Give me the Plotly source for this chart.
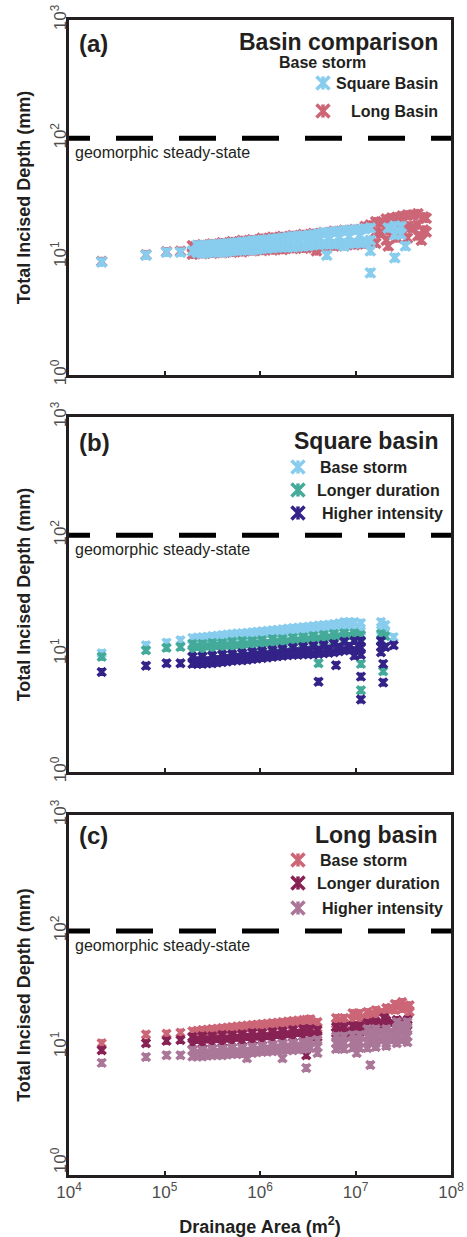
import math
import plotly.graph_objects as go

# ---------------- data ----------------
# (a) Basin comparison - base storm
a_square_area = [2.2e4, 6.4e4, 1.05e5, 1.47e5, 1.96e5,
                 2.49e5, 2.49e5, 3.16e5, 3.16e5, 4.02e5, 4.02e5, 5.1e5, 5.1e5,
                 6.5e5, 6.5e5, 8.3e5, 8.3e5, 1.05e6, 1.05e6, 1.35e6, 1.35e6,
                 1.72e6, 1.72e6, 2.21e6, 2.21e6, 2.83e6, 2.83e6, 3.62e6, 3.62e6,
                 4.64e6, 4.64e6, 5.94e6, 5.94e6, 7.62e6, 7.62e6, 9.75e6, 9.75e6,
                 1.26e7, 1.26e7, 1.43e7, 1.43e7, 2.2e7, 2.58e7, 2.58e7, 3.0e7, 3.0e7,
                 5.0e6, 7.62e6, 1.43e7, 1.43e7, 2.58e7, 3.33e7,
                 2.21e5, 2.8e5, 3.56e5, 4.53e5, 5.75e5, 7.33e5, 9.3e5, 1.19e6, 1.52e6,
                 1.95e6, 2.5e6, 3.2e6, 4.1e6, 5.25e6, 6.73e6, 8.6e6, 1.11e7,
                 2.21e5, 2.8e5, 3.56e5, 4.53e5, 5.75e5, 7.33e5, 9.3e5, 1.19e6, 1.52e6,
                 1.95e6, 2.5e6, 3.2e6, 4.1e6, 5.25e6, 6.73e6, 8.6e6, 1.11e7,
                 2.21e5, 2.8e5, 3.56e5, 4.53e5, 5.75e5, 7.33e5, 9.3e5, 1.19e6, 1.52e6,
                 1.95e6, 2.5e6, 3.2e6, 4.1e6, 5.25e6, 6.73e6, 8.6e6, 1.11e7]
a_square_depth = [9.0, 10.3, 10.9, 10.9, 11.2,
                  12.4, 10.7, 12.6, 10.9, 12.8, 10.9, 13.0, 11.2,
                  13.3, 11.4, 13.6, 11.4, 13.8, 11.7, 14.1, 11.9,
                  14.4, 12.1, 14.8, 12.1, 15.0, 12.3, 15.3, 12.6,
                  15.9, 12.8, 16.2, 12.8, 16.6, 13.0, 16.8, 13.0,
                  17.2, 13.3, 17.5, 13.8, 17.5, 18.2, 15.3, 18.0, 15.5,
                  10.3, 12.3, 11.2, 7.3, 9.8, 12.3,
                  11.5, 11.7, 11.8, 12.0, 12.2, 12.3, 12.6, 12.8, 13.0,
                  13.2, 13.4, 13.7, 14.1, 14.4, 14.6, 14.8, 15.2,
                  12.5, 12.5, 12.7, 12.9, 13.1, 13.4, 13.7, 13.9, 14.2,
                  14.6, 14.9, 15.1, 15.6, 16.0, 16.4, 16.7, 17.0,
                  10.8, 10.8, 10.9, 11.0, 11.3, 11.4, 11.5, 11.8, 12.0,
                  12.1, 12.2, 12.4, 12.7, 12.8, 12.9, 13.0, 13.1]

a_long_area = [2.2e4, 6.4e4, 1.05e5, 1.47e5,
               1.96e5, 1.96e5, 2.49e5, 2.49e5, 3.16e5, 3.16e5, 4.02e5, 4.02e5,
               5.1e5, 5.1e5, 6.5e5, 6.5e5, 8.3e5, 8.3e5, 1.05e6, 1.05e6,
               1.35e6, 1.35e6, 1.72e6, 1.72e6, 2.21e6, 2.21e6, 2.83e6, 2.83e6,
               3.62e6, 3.62e6, 4.64e6, 4.64e6, 5.94e6, 5.94e6, 7.62e6, 7.62e6,
               9.75e6, 9.75e6, 1.26e7, 1.26e7, 1.43e7, 1.43e7,
               1.63e7, 1.63e7, 1.63e7, 2.1e7, 2.1e7, 2.1e7, 2.71e7, 2.71e7, 2.71e7,
               3.5e7, 3.5e7, 3.5e7, 4.5e7, 4.5e7, 4.5e7, 5.5e7, 5.5e7,
               3.9e6, 2.2e7, 4.9e7,
               1.85e7, 1.85e7, 2.39e7, 2.39e7, 3.08e7, 3.08e7, 3.98e7, 3.98e7,
               5.14e7, 5.14e7]
a_long_depth = [9.1, 10.4, 11.0, 11.1,
                12.4, 10.5, 12.6, 10.6, 12.8, 10.7, 13.1, 10.8,
                13.4, 10.9, 13.7, 11.0, 13.9, 11.2, 14.3, 11.3,
                14.6, 11.4, 14.8, 11.5, 15.1, 11.7, 15.4, 11.8,
                15.7, 11.9, 16.0, 12.1, 16.4, 12.3, 16.7, 12.4,
                17.0, 12.6, 18.0, 12.8, 18.5, 13.0,
                19.7, 16.2, 13.0, 20.8, 16.8, 13.8, 21.6, 17.5, 14.4,
                22.5, 18.2, 14.4, 23.1, 18.5, 15.0, 21.1, 16.2,
                11.2, 12.3, 13.8,
                19.6, 15.8, 21.2, 16.8, 22.1, 17.5, 22.5, 17.5,
                21.7, 16.8]

# (b) Square basin
b_base_area = [2.2e4, 6.4e4, 1.05e5, 1.47e5,
               1.96e5, 1.96e5, 2.49e5, 2.49e5, 3.16e5, 3.16e5, 4.02e5, 4.02e5,
               5.1e5, 5.1e5, 6.5e5, 6.5e5, 8.3e5, 8.3e5, 1.05e6, 1.05e6,
               1.35e6, 1.35e6, 1.72e6, 1.72e6, 2.21e6, 2.21e6, 2.83e6, 2.83e6,
               3.62e6, 3.62e6, 4.64e6, 4.64e6, 5.94e6, 5.94e6, 7.62e6, 7.62e6,
               9.75e6, 9.75e6, 1.14e7, 1.14e7, 1.85e7, 1.85e7, 2.05e7, 2.05e7,
               2.51e7,
               2.21e5, 2.8e5, 3.56e5, 4.53e5, 5.75e5, 7.33e5, 9.3e5, 1.19e6,
               1.52e6, 1.95e6, 2.5e6, 3.2e6, 4.1e6, 5.25e6, 6.73e6, 8.6e6,
               2.21e5, 2.8e5, 3.56e5, 4.53e5, 5.75e5, 7.33e5, 9.3e5, 1.19e6,
               1.52e6, 1.95e6, 2.5e6, 3.2e6, 4.1e6, 5.25e6, 6.73e6, 8.6e6]
b_base_depth = [10.1, 11.8, 12.4, 13.0,
                13.6, 11.8, 13.8, 12.1, 14.1, 12.3, 14.4, 12.6,
                14.7, 12.8, 14.9, 13.0, 15.2, 13.3, 15.5, 13.6,
                15.8, 13.8, 16.1, 14.1, 16.5, 14.4, 16.8, 14.7,
                17.1, 14.9, 17.5, 15.2, 17.8, 15.5, 18.5, 15.8,
                18.5, 15.8, 18.2, 15.5, 18.5, 15.8, 17.5, 15.2,
                13.8,
                12.8, 13.0, 13.3, 13.6, 13.8, 14.1, 14.4, 14.7,
                14.9, 15.2, 15.5, 15.8, 16.1, 16.5, 16.8, 17.1,
                13.7, 13.9, 14.2, 14.5, 14.8, 15.0, 15.3, 15.6,
                15.9, 16.3, 16.6, 16.9, 17.3, 17.6, 18.1, 18.5]

b_longer_area = [2.2e4, 6.4e4, 1.05e5, 1.47e5,
                 1.96e5, 1.96e5, 2.49e5, 2.49e5, 3.16e5, 3.16e5, 4.02e5, 4.02e5,
                 5.1e5, 5.1e5, 6.5e5, 6.5e5, 8.3e5, 8.3e5, 1.05e6, 1.05e6,
                 1.35e6, 1.35e6, 1.72e6, 1.72e6, 2.21e6, 2.21e6, 2.83e6, 2.83e6,
                 3.62e6, 3.62e6, 4.64e6, 4.64e6, 5.94e6, 5.94e6, 7.62e6, 7.62e6,
                 9.75e6, 9.75e6, 1.14e7, 1.14e7, 1.85e7, 1.85e7, 2.05e7,
                 4.1e6, 1.14e7, 1.14e7, 1.95e7,
                 2.21e5, 2.8e5, 3.56e5, 4.53e5, 5.75e5, 7.33e5, 9.3e5, 1.19e6,
                 1.52e6, 1.95e6, 2.5e6, 3.2e6, 4.1e6, 5.25e6, 6.73e6, 8.6e6]
b_longer_depth = [9.4, 10.7, 11.2, 11.4,
                  12.1, 10.5, 12.1, 10.7, 12.3, 10.7, 12.3, 10.9,
                  12.6, 10.9, 12.8, 11.2, 12.8, 11.4, 13.0, 11.4,
                  13.3, 11.6, 13.3, 11.8, 13.6, 11.8, 13.8, 12.1,
                  14.1, 12.3, 14.4, 12.6, 14.7, 12.8, 14.9, 13.0,
                  14.9, 13.0, 14.4, 12.6, 14.7, 13.0, 14.1,
                  8.3, 8.2, 4.9, 7.1,
                  11.4, 11.5, 11.6, 11.7, 11.8, 12.0, 12.2, 12.3,
                  12.6, 12.7, 12.9, 13.2, 13.4, 13.7, 14.0, 14.1]

b_higher_area = [2.2e4, 6.4e4, 1.05e5, 1.47e5,
                 1.96e5, 1.96e5, 2.49e5, 2.49e5, 3.16e5, 3.16e5, 4.02e5, 4.02e5,
                 5.1e5, 5.1e5, 6.5e5, 6.5e5, 8.3e5, 8.3e5, 1.05e6, 1.05e6,
                 1.35e6, 1.35e6, 1.72e6, 1.72e6, 2.21e6, 2.21e6, 2.83e6, 2.83e6,
                 3.62e6, 3.62e6, 4.64e6, 4.64e6, 5.94e6, 5.94e6, 7.62e6, 7.62e6,
                 9.75e6, 9.75e6, 9.75e6, 1.14e7, 1.14e7, 1.14e7,
                 1.85e7, 1.85e7, 1.85e7, 2.05e7, 2.51e7,
                 4.1e6, 6.25e6, 1.14e7, 1.14e7, 1.95e7, 1.95e7,
                 2.21e5, 2.8e5, 3.56e5, 4.53e5, 5.75e5, 7.33e5, 9.3e5, 1.19e6,
                 1.52e6, 1.95e6, 2.5e6, 3.2e6, 4.1e6, 5.25e6, 6.73e6, 8.6e6, 1.11e7,
                 2.21e5, 2.8e5, 3.56e5, 4.53e5, 5.75e5, 7.33e5, 9.3e5, 1.19e6,
                 1.52e6, 1.95e6, 2.5e6, 3.2e6, 4.1e6, 5.25e6, 6.73e6, 8.6e6]
b_higher_depth = [7.0, 7.9, 8.3, 8.3,
                  9.4, 8.2, 9.4, 8.2, 9.6, 8.3, 9.8, 8.5,
                  9.9, 8.7, 10.1, 8.8, 10.3, 9.0, 10.5, 9.2,
                  10.7, 9.4, 10.9, 9.6, 11.2, 9.8, 11.4, 9.9,
                  11.6, 9.9, 11.8, 10.1, 12.1, 10.3, 12.6, 10.7,
                  12.8, 10.7, 9.6, 12.8, 11.2, 9.8,
                  12.8, 11.4, 10.3, 11.4, 11.8,
                  5.8, 8.0, 6.4, 4.1, 8.2, 5.7,
                  8.8, 8.8, 9.0, 9.2, 9.4, 9.6, 9.8, 9.9,
                  10.1, 10.3, 10.5, 10.7, 10.8, 11.0, 11.4, 11.6, 11.2,
                  8.2, 8.3, 8.4, 8.6, 8.8, 8.9, 9.1, 9.3,
                  9.5, 9.7, 9.8, 9.9, 10.0, 10.2, 10.5, 10.7]

# (c) Long basin
c_base_area = [2.2e4, 6.4e4, 1.05e5, 1.47e5,
               1.96e5, 1.96e5, 2.49e5, 2.49e5, 3.16e5, 3.16e5, 4.02e5, 4.02e5,
               5.1e5, 5.1e5, 6.5e5, 6.5e5, 8.3e5, 8.3e5, 1.05e6, 1.05e6,
               1.35e6, 1.35e6, 1.72e6, 1.72e6, 2.21e6, 2.21e6, 2.83e6, 2.83e6,
               3.36e6, 3.36e6, 4.0e6, 4.0e6, 6.25e6, 6.25e6, 7.62e6, 7.62e6,
               9.3e6, 9.3e6, 1.11e7, 1.11e7, 1.33e7, 1.33e7, 1.63e7, 1.63e7,
               2.1e7, 2.1e7, 2.58e7, 2.58e7, 3.08e7, 3.08e7, 3.69e7, 3.69e7,
               2.21e5, 2.8e5, 3.56e5, 4.53e5, 5.75e5, 7.33e5, 9.3e5, 1.19e6,
               1.52e6, 1.95e6, 2.5e6, 3.05e6,
               6.9e6, 1.0e7, 1.47e7, 1.85e7, 2.33e7, 2.86e7, 3.41e7,
               2.21e5, 2.8e5, 3.56e5, 4.53e5, 5.75e5, 7.33e5, 9.3e5, 1.19e6,
               1.52e6, 1.95e6, 2.5e6, 3.05e6]
c_base_depth = [10.8, 12.8, 13.0, 13.3,
                13.7, 12.2, 14.0, 12.4, 14.3, 12.7, 14.6, 12.9,
                14.9, 13.2, 15.2, 13.5, 15.5, 13.7, 15.8, 14.0,
                16.1, 14.3, 16.4, 14.6, 16.8, 14.9, 17.1, 15.2,
                17.4, 15.5, 16.4, 14.6, 17.8, 15.8, 17.8, 15.8,
                19.6, 17.1, 19.6, 17.1, 20.0, 18.1, 20.8, 18.5,
                21.7, 18.9, 23.5, 20.8, 24.4, 21.3, 22.9, 20.0,
                13.1, 13.4, 13.6, 13.9, 14.2, 14.5, 14.8, 15.1,
                15.4, 15.6, 16.0, 16.2,
                16.8, 18.5, 19.2, 20.0, 21.7, 22.5, 22.5,
                13.8, 14.1, 14.4, 14.7, 15.0, 15.3, 15.6, 15.9,
                16.2, 16.6, 16.9, 17.2]

c_longer_area = [2.2e4, 6.4e4, 1.05e5, 1.47e5,
                 1.96e5, 1.96e5, 2.49e5, 2.49e5, 3.16e5, 3.16e5, 4.02e5, 4.02e5,
                 5.1e5, 5.1e5, 6.5e5, 6.5e5, 8.3e5, 8.3e5, 1.05e6, 1.05e6,
                 1.35e6, 1.35e6, 1.72e6, 1.72e6, 2.21e6, 2.21e6, 2.83e6, 2.83e6,
                 3.36e6, 3.36e6, 4.0e6, 4.0e6, 6.25e6, 6.25e6, 7.62e6, 7.62e6,
                 9.3e6, 9.3e6, 1.11e7, 1.11e7, 1.33e7, 1.33e7, 1.63e7, 1.63e7,
                 2.1e7, 2.1e7, 2.71e7, 2.71e7, 3.5e7, 3.5e7,
                 2.0e7, 3.05e6,
                 2.21e5, 2.8e5, 3.56e5, 4.53e5, 5.75e5, 7.33e5, 9.3e5, 1.19e6,
                 1.52e6, 1.95e6, 2.5e6, 3.05e6,
                 6.9e6, 1.0e7, 1.47e7, 1.85e7, 2.33e7, 3.08e7]
c_longer_depth = [9.4, 10.8, 11.3, 11.5,
                  12.2, 10.6, 12.4, 10.8, 12.4, 10.8, 12.7, 11.0,
                  12.7, 11.0, 12.9, 11.3, 13.2, 11.5, 13.2, 11.5,
                  13.5, 11.7, 13.7, 12.0, 14.0, 12.2, 14.3, 12.4,
                  14.3, 12.4, 14.0, 12.2, 14.9, 13.2, 14.9, 13.2,
                  15.2, 13.5, 15.2, 13.5, 16.1, 14.6, 16.4, 14.9,
                  16.8, 15.2, 17.1, 15.2, 17.1, 15.5,
                  17.8, 8.5,
                  11.5, 11.6, 11.7, 11.8, 12.0, 12.2, 12.3, 12.4,
                  12.7, 12.9, 13.2, 13.4,
                  14.0, 14.3, 15.5, 15.8, 16.1, 16.4]

c_higher_area = [2.2e4, 6.4e4, 1.05e5, 1.47e5,
                 1.96e5, 1.96e5, 2.49e5, 2.49e5, 3.16e5, 3.16e5, 4.02e5, 4.02e5,
                 5.1e5, 5.1e5, 6.5e5, 6.5e5, 7.3e5, 8.3e5, 8.3e5, 1.05e6, 1.05e6,
                 1.35e6, 1.35e6, 1.72e6, 1.72e6, 1.72e6, 2.21e6, 2.21e6, 2.83e6, 2.83e6,
                 3.36e6, 3.36e6, 4.0e6, 4.0e6, 4.0e6,
                 6.25e6, 6.25e6, 6.25e6, 7.62e6, 7.62e6, 7.62e6,
                 9.3e6, 9.3e6, 9.3e6, 1.11e7, 1.11e7, 1.11e7,
                 1.33e7, 1.33e7, 1.33e7, 1.33e7, 1.63e7, 1.63e7, 1.63e7, 1.63e7,
                 2.1e7, 2.1e7, 2.1e7, 2.1e7, 2.71e7, 2.71e7, 2.71e7, 2.71e7,
                 3.5e7, 3.5e7, 3.5e7, 3.5e7,
                 3.05e6, 1.03e7, 1.43e7,
                 2.21e5, 2.8e5, 3.56e5, 4.53e5, 5.75e5, 7.33e5, 9.3e5, 1.19e6,
                 1.52e6, 1.95e6, 2.5e6, 3.05e6,
                 6.9e6, 6.9e6, 1.0e7, 1.0e7, 1.47e7, 1.47e7, 1.85e7, 1.85e7,
                 2.33e7, 2.33e7, 3.08e7, 3.08e7, 3.08e7,
                 2.21e5, 2.8e5, 3.56e5, 4.53e5, 5.75e5, 7.33e5, 9.3e5, 1.19e6,
                 1.52e6, 1.95e6, 2.5e6, 3.05e6]
c_higher_depth = [7.3, 8.2, 8.5, 8.5,
                  9.4, 8.3, 9.4, 8.3, 9.6, 8.5, 9.6, 8.5,
                  9.8, 8.7, 9.8, 8.7, 8.0, 10.0, 8.9, 10.2, 9.1,
                  10.4, 9.2, 10.6, 9.4, 8.0, 10.8, 9.4, 11.0, 9.6,
                  11.3, 9.8, 11.5, 10.0, 8.9,
                  12.4, 10.8, 9.6, 12.4, 10.8, 9.6,
                  12.7, 11.0, 9.8, 12.7, 11.0, 9.8,
                  14.3, 12.4, 10.8, 9.8, 14.3, 12.4, 10.8, 10.0,
                  14.3, 12.4, 10.8, 10.2, 16.4, 14.3, 12.4, 10.8,
                  16.4, 14.3, 12.4, 11.0,
                  6.6, 8.9, 7.0,
                  8.9, 9.0, 9.1, 9.2, 9.2, 9.3, 9.5, 9.7,
                  9.9, 10.1, 10.3, 10.5,
                  11.6, 10.2, 11.7, 10.4, 13.5, 11.5, 13.5, 11.5,
                  13.5, 11.5, 15.5, 13.5, 11.5,
                  8.3, 8.4, 8.5, 8.6, 8.7, 8.8, 9.0, 9.1,
                  9.3, 9.4, 9.5, 9.7]

Y_TICKVALS = [1, 10, 100, 1000]
Y_TICKTEXT = ["10<sup>0</sup>", "10<sup>1</sup>", "10<sup>2</sup>", "10<sup>3</sup>"]
X_TICKVALS = [1e4, 1e5, 1e6, 1e7, 1e8]
X_TICKTEXT = ["10<sup>4</sup>", "10<sup>5</sup>", "10<sup>6</sup>", "10<sup>7</sup>", "10<sup>8</sup>"]
STEADY_STATE = 100

# ---------------- styling ----------------
FONT = "Liberation Sans, Arial, sans-serif"
INK = "#231f20"
C_SQ_BASE = "#88CCEE"
C_SQ_LONGER = "#44AA99"
C_SQ_HIGHER = "#332288"
C_LG_BASE = "#CC6677"
C_LG_LONGER = "#882255"
C_LG_HIGHER = "#AA7799"

W, H = 467, 1237
PX0, PX1, PY0, PY1 = 69, 451, 20, 1175          # plot area in page pixels
ML, MT, MR, MB = PX0, PY0, W - PX1, H - PY1
DOMAINS = [[0.6926, 1.0], [0.3489, 0.6563], [0.0, 0.3117]]
YRANGES = [[0, 3], [0, 3], [-0.103, 3]]
LW = 3.5

fig = go.Figure()


def axn(n, letter):
    return letter if n == 1 else f"{letter}{n}"


def add_series(area, depth, color, n, size):
    for sym, s in (("x-thin-open", size), ("line-ns-open", size * 0.72)):
        fig.add_trace(go.Scatter(
            x=area, y=depth, mode="markers",
            xaxis=axn(n, "x"), yaxis=axn(n, "y"),
            marker=dict(symbol=sym, size=s, color=color, line=dict(width=LW, color=color)),
            showlegend=False, hoverinfo="skip"))


add_series(a_long_area, a_long_depth, C_LG_BASE, 1, 9.5)
add_series(a_square_area, a_square_depth, C_SQ_BASE, 1, 9.5)
add_series(b_base_area, b_base_depth, C_SQ_BASE, 2, 8)
add_series(b_longer_area, b_longer_depth, C_SQ_LONGER, 2, 8)
add_series(b_higher_area, b_higher_depth, C_SQ_HIGHER, 2, 8)
add_series(c_base_area, c_base_depth, C_LG_BASE, 3, 8)
add_series(c_longer_area, c_longer_depth, C_LG_LONGER, 3, 8)
add_series(c_higher_area, c_higher_depth, C_LG_HIGHER, 3, 8)

# legend keys drawn on an invisible page-pixel overlay axis (layout positions)
LEGEND_KEYS = [
    (323, 83, C_SQ_BASE), (323, 111, C_LG_BASE),
    (298, 467, C_SQ_BASE), (298, 490, C_SQ_LONGER), (298, 513, C_SQ_HIGHER),
    (298, 860, C_LG_BASE), (298, 883, C_LG_LONGER), (298, 908, C_LG_HIGHER),
]
for sym, s in (("x-thin-open", 13), ("line-ns-open", 13 * 0.72)):
    fig.add_trace(go.Scatter(
        x=[k[0] for k in LEGEND_KEYS], y=[k[1] for k in LEGEND_KEYS],
        mode="markers", xaxis="x4", yaxis="y4",
        marker=dict(symbol=sym, size=s, color=[k[2] for k in LEGEND_KEYS],
                    line=dict(width=3.5)),
        showlegend=False, hoverinfo="skip"))

layout = dict(
    width=W, height=H, margin=dict(l=ML, r=MR, t=MT, b=MB, autoexpand=False),
    paper_bgcolor="white", plot_bgcolor="rgba(0,0,0,0)",
    font=dict(family=FONT, color=INK),
    showlegend=False,
)

for i in range(3):
    n = i + 1
    xa = dict(type="log", range=[4, 8], domain=[0, 1], anchor=axn(n, "y"),
              automargin=False,
              showline=True, linecolor=INK, linewidth=3, mirror=True,
              ticks="inside", ticklen=4, tickwidth=2, tickcolor=INK,
              tickvals=X_TICKVALS, ticktext=X_TICKTEXT,
              showticklabels=(n == 3), showgrid=False, zeroline=False,
              ticklabeloverflow="allow",
              tickfont=dict(size=17, color="#4d4d4d"))
    if n == 3:
        xa["title"] = dict(text="<b>Drainage Area (m<sup>2</sup>)</b>",
                           font=dict(size=18, color=INK), standoff=20)
    ya = dict(type="log", range=YRANGES[i], domain=DOMAINS[i], anchor=axn(n, "x"),
              automargin=False,
              showline=True, linecolor=INK, linewidth=3, mirror=True,
              ticks="", tickvals=Y_TICKVALS, ticktext=Y_TICKTEXT, tickangle=-90,
              ticklabelstandoff=-7, ticklabeloverflow="allow",
              showgrid=False, zeroline=False,
              tickfont=dict(size=17, color="#4d4d4d"),
              title=dict(text="<b>Total Incised Depth (mm)</b>",
                         font=dict(size=18, color=INK), standoff=13))
    layout["xaxis" if n == 1 else f"xaxis{n}"] = xa
    layout["yaxis" if n == 1 else f"yaxis{n}"] = ya

layout["xaxis4"] = dict(domain=[0, 1], range=[PX0, PX1], visible=False, anchor="y4",
                        fixedrange=True, automargin=False)
layout["yaxis4"] = dict(domain=[0, 1], range=[PY1, PY0], visible=False, anchor="x4",
                        fixedrange=True, automargin=False)

fig.update_layout(**layout)

# steady-state dashed line in each panel
DASH = "21px,26px" + ",37px,26px" * 6
for n in (1, 2, 3):
    fig.add_shape(type="line", xref=f"{axn(n, 'x')} domain", yref=axn(n, "y"),
                  x0=0, x1=1, y0=STEADY_STATE, y1=STEADY_STATE,
                  line=dict(color="black", width=5, dash=DASH))
    fig.add_annotation(xref="x4", yref=axn(n, "y"), x=73, y=math.log10(STEADY_STATE),
                       yshift=-14, xanchor="left", yanchor="middle",
                       text="geomorphic steady-state", showarrow=False,
                       font=dict(size=16, color=INK))

ANN = [
    # text, x, y (page pixels), xanchor, size
    ("<b>(a)</b>", 77, 43, "left", 24),
    ("<b>Basin comparison</b>", 440, 42, "right", 23),
    ("<b>Base storm</b>", 322, 62, "center", 16),
    ("<b>Square Basin</b>", 440, 83, "right", 16),
    ("<b>Long Basin</b>", 440, 111, "right", 16),
    ("<b>(b)</b>", 77, 442, "left", 24),
    ("<b>Square basin</b>", 440, 441, "right", 23),
    ("<b>Base storm</b>", 318, 467, "left", 16),
    ("<b>Longer duration</b>", 315, 490, "left", 16),
    ("<b>Higher intensity</b>", 320, 513, "left", 16),
    ("<b>(c)</b>", 77, 835, "left", 24),
    ("<b>Long basin</b>", 440, 835, "right", 23),
    ("<b>Base storm</b>", 318, 860, "left", 16),
    ("<b>Longer duration</b>", 315, 883, "left", 16),
    ("<b>Higher intensity</b>", 320, 908, "left", 16),
]
for text, x, y, xa, size in ANN:
    fig.add_annotation(xref="x4", yref="y4", x=x, y=y, xanchor=xa, yanchor="middle",
                       text=text, showarrow=False, font=dict(size=size, color=INK))

# the figure fills the whole 467x1237 page (no default body margin)
fig.write_html("out.html", config={"displayModeBar": False},
               post_script="document.body.style.margin='0';")
